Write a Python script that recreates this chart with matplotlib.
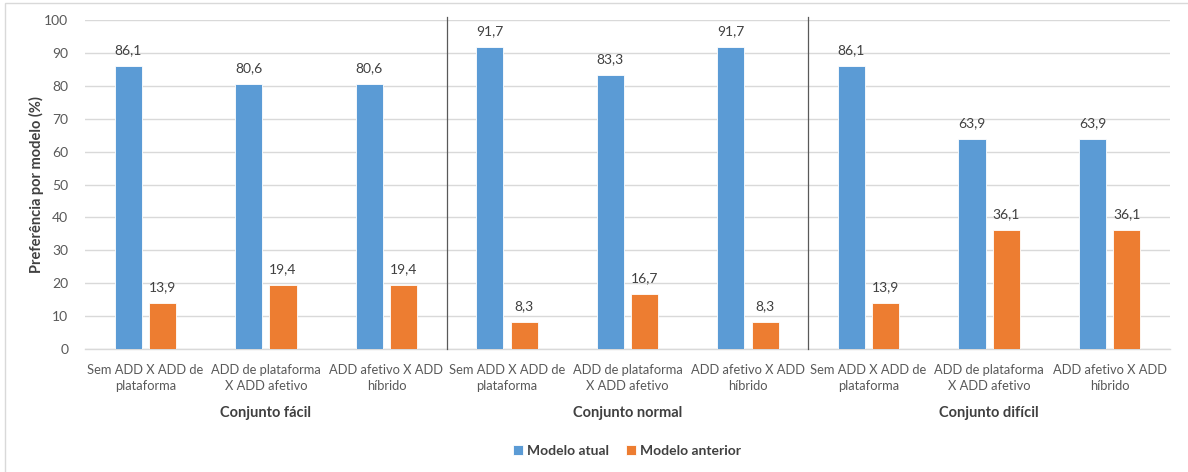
import matplotlib
matplotlib.use("Agg")
import matplotlib.pyplot as plt
from matplotlib.patches import Rectangle
import numpy as np

plt.rcParams['font.family'] = ['Lato', 'DejaVu Sans']

categories = ["Sem ADD X ADD de\nplataforma", "ADD de plataforma\nX ADD afetivo", "ADD afetivo X ADD\nhíbrido"] * 3
groups = ["Conjunto fácil", "Conjunto normal", "Conjunto difícil"]
atual = [86.1, 80.6, 80.6, 91.7, 83.3, 91.7, 86.1, 63.9, 63.9]
anterior = [13.9, 19.4, 19.4, 8.3, 16.7, 8.3, 13.9, 36.1, 36.1]
series_names = ["Modelo atual", "Modelo anterior"]
yticks = [0, 10, 20, 30, 40, 50, 60, 70, 80, 90, 100]

blue = "#5B9BD5"
orange = "#ED7D31"
txt = "#404040"
tick_c = "#595959"

W, H = 1188, 472
fig = plt.figure(figsize=(W / 100, H / 100), dpi=100)
ax = fig.add_axes([85 / W, 1 - 349 / H, (1170 - 85) / W, (349 - 20) / H])

x = np.arange(len(categories))
bw = 0.225
off = 0.142
b1 = ax.bar(x - off, atual, bw, color=blue, edgecolor="white", linewidth=0.6, label=series_names[0], zorder=3)
b2 = ax.bar(x + off, anterior, bw, color=orange, edgecolor="white", linewidth=0.6, label=series_names[1], zorder=3)

def fmt(v):
    return f"{v:.1f}".replace(".", ",")

for bars, vals in ((b1, atual), (b2, anterior)):
    for r, v in zip(bars, vals):
        ax.annotate(fmt(v), (r.get_x() + r.get_width() / 2, v), xytext=(0, 7),
                    textcoords="offset points", ha="center", va="bottom",
                    fontsize=10, color=txt)

ax.set_xlim(-0.5, len(categories) - 0.5)
ax.set_ylim(0, 100)
ax.set_yticks(yticks)
ax.set_yticklabels([str(t) for t in yticks], fontsize=10, color=tick_c)
ax.tick_params(axis="y", length=0, pad=12)
ax.yaxis.grid(True, color="#D9D9D9", linewidth=1, zorder=0)
ax.set_axisbelow(True)
for s in ["top", "right", "left"]:
    ax.spines[s].set_visible(False)
ax.spines["bottom"].set_color("#D9D9D9")
ax.spines["bottom"].set_linewidth(1)

ax.set_xticks(x)
ax.set_xticklabels(categories, fontsize=9.3, color=tick_c, linespacing=1.35)
ax.tick_params(axis="x", length=0, pad=11)

# group separators
for sep in (2.5, 5.5):
    ax.plot([sep, sep], [0, 101], color="#595959", linewidth=0.9, clip_on=False, zorder=4)

# group labels
for i, g in enumerate(groups):
    ax.text(3 * i + 1, -0.195, g, transform=ax.get_xaxis_transform(), ha="center", va="center",
            fontsize=10.5, fontweight="bold", color=txt)

ax.set_ylabel("Preferência por modelo (%)", fontsize=10.5, fontweight="bold", color=txt, labelpad=0)

leg = fig.legend(handles=[b1, b2], labels=series_names, loc="center", bbox_to_anchor=(627 / W, 1 - 451 / H),
                 ncol=2, frameon=False, fontsize=10, handlelength=0.7, handleheight=0.7,
                 handletextpad=0.3, columnspacing=1.2)
for t in leg.get_texts():
    t.set_color(txt)
    t.set_fontweight("bold")

# outer chart border
fig.patches.append(Rectangle((5 / W, -0.05), 1.1, 1 - 2.5 / H + 0.05, transform=fig.transFigure,
                             fill=False, edgecolor="#D9D9D9", linewidth=1))

fig.savefig("out.png", dpi=100)
